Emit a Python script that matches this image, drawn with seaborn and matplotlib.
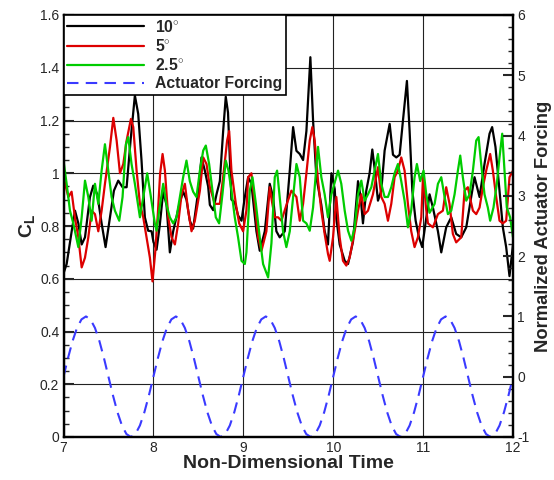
import matplotlib
matplotlib.use("Agg")
import matplotlib.pyplot as plt
import matplotlib.ticker as mticker
import seaborn as sns
import numpy as np

# ---------------- data ----------------
t_10 = [7.0, 7.035, 7.091, 7.128, 7.165, 7.202, 7.239, 7.294, 7.331, 7.376, 7.424, 7.468,
        7.517, 7.561, 7.609, 7.657, 7.702, 7.746, 7.794, 7.831, 7.868, 7.905, 7.942, 7.98,
        8.0, 8.035, 8.07, 8.109, 8.146, 8.183, 8.22, 8.294, 8.331, 8.368, 8.405, 8.442,
        8.498, 8.535, 8.572, 8.609, 8.628, 8.665, 8.702, 8.739, 8.776, 8.805, 8.83, 8.868,
        8.905, 8.942, 8.98, 9.017, 9.054, 9.09, 9.146, 9.183, 9.239, 9.294, 9.331, 9.368,
        9.405, 9.461, 9.517, 9.554, 9.591, 9.628, 9.665, 9.702, 9.746, 9.776, 9.813, 9.868,
        9.905, 9.942, 9.98, 10.017, 10.035, 10.072, 10.128, 10.165, 10.22, 10.276, 10.305,
        10.331, 10.368, 10.405, 10.435, 10.46, 10.498, 10.535, 10.572, 10.628, 10.665,
        10.702, 10.739, 10.776, 10.82, 10.85, 10.88, 10.917, 10.954, 10.99, 11.035, 11.072,
        11.109, 11.165, 11.202, 11.257, 11.313, 11.368, 11.424, 11.48, 11.535, 11.572,
        11.628, 11.683, 11.739, 11.768, 11.805, 11.85, 11.887, 11.924, 11.961, 12.0]
cl_10 = [0.62, 0.656, 0.78, 0.858, 0.81, 0.73, 0.757, 0.909, 0.953, 0.92, 0.81, 0.72,
         0.833, 0.934, 0.972, 0.947, 0.947, 1.124, 1.295, 1.225, 1.048, 0.833, 0.782, 0.78,
         0.74, 0.71, 0.80, 0.93, 0.88, 0.70, 0.78, 0.89, 0.93, 0.90, 0.82, 0.79,
         0.93, 1.06, 1.01, 0.95, 0.88, 0.86, 0.92, 0.97, 1.16, 1.29, 1.23, 0.90,
         0.89, 0.84, 0.82, 0.91, 0.985, 0.96, 0.78, 0.706, 0.78, 0.96, 0.91, 0.78,
         0.757, 0.78, 1.01, 1.175, 1.085, 1.073, 1.05, 1.16, 1.44, 1.2, 0.985, 0.88,
         0.78, 0.73, 1.0, 0.94, 0.83, 0.73, 0.668, 0.656, 0.74, 0.97, 0.91,
         0.81, 0.934, 1.0, 1.09, 1.02, 0.896, 0.934, 1.086, 1.187, 1.07,
         1.06, 1.07, 1.2, 1.35, 1.16, 0.934, 0.82, 0.757, 0.72, 0.83, 0.92,
         0.87, 0.78, 0.70, 0.795, 0.833, 0.77, 0.757, 0.795, 0.91, 0.985,
         0.91, 1.035, 1.15, 1.175, 1.1, 0.934, 0.795, 0.72, 0.61, 0.73]

t_5 = [7.0, 7.054, 7.09, 7.128, 7.165, 7.202, 7.239, 7.276, 7.313, 7.35, 7.387, 7.424,
       7.461, 7.517, 7.554, 7.591, 7.628, 7.665, 7.702, 7.75, 7.776, 7.813, 7.85, 7.887,
       7.924, 7.961, 7.99, 8.02, 8.05, 8.075, 8.102, 8.128, 8.165, 8.202, 8.239, 8.276,
       8.313, 8.35, 8.387, 8.424, 8.461, 8.517, 8.554, 8.591, 8.628, 8.683, 8.739, 8.776,
       8.82, 8.843, 8.868, 8.917, 8.954, 8.998, 9.035, 9.054, 9.09, 9.128, 9.165, 9.202,
       9.257, 9.294, 9.32, 9.35, 9.387, 9.424, 9.48, 9.535, 9.591, 9.628, 9.665, 9.702,
       9.739, 9.768, 9.794, 9.831, 9.868, 9.905, 9.942, 9.961, 9.998, 10.035, 10.072,
       10.109, 10.146, 10.183, 10.239, 10.276, 10.313, 10.35, 10.387, 10.442, 10.498,
       10.535, 10.572, 10.609, 10.646, 10.683, 10.72, 10.757, 10.794, 10.831, 10.868,
       10.905, 10.942, 10.98, 11.0, 11.035, 11.054, 11.109, 11.165, 11.22, 11.257, 11.294,
       11.331, 11.368, 11.424, 11.461, 11.498, 11.52, 11.554, 11.591, 11.628, 11.665,
       11.702, 11.746, 11.776, 11.813, 11.85, 11.887, 11.924, 11.961, 12.0]
cl_5 = [0.985, 0.91, 0.93, 0.83, 0.757, 0.643, 0.68, 0.757, 0.858, 0.845, 0.78, 0.858,
        0.96, 1.1, 1.21, 1.124, 1.0, 1.035, 1.124, 1.206, 1.175, 1.01, 0.884, 0.833,
        0.757, 0.68, 0.59, 0.70, 0.85, 1.0, 1.073, 1.01, 0.833, 0.757, 0.73, 0.81,
        0.92, 0.96, 0.858, 0.78, 0.82, 0.934, 1.06, 1.035, 0.947, 0.884, 0.884, 0.985,
        1.124, 1.16, 1.01, 0.884, 0.81, 0.78, 0.86, 0.985, 1.0, 0.884, 0.757, 0.706,
        0.78, 0.947, 0.89, 0.833, 0.833, 0.82, 0.88, 0.934, 0.91, 0.82, 0.884, 1.0,
        1.124, 1.175, 1.124, 0.972, 0.858, 0.77, 0.694, 0.668, 0.757, 0.91, 0.757,
        0.668, 0.65, 0.68, 0.78, 0.858, 0.92, 0.845, 0.858, 0.92, 1.023,
        0.91, 0.884, 0.82, 0.884, 0.985, 1.01, 1.06, 1.01, 0.884, 0.78,
        0.72, 0.757, 0.833, 0.997, 0.86, 0.81, 0.795, 0.845, 0.858, 0.947, 0.884,
        0.77, 0.738, 0.757, 0.934, 0.947, 0.91, 0.858, 0.845, 0.87, 0.947,
        1.01, 1.073, 1.01, 0.91, 0.82, 0.81, 0.82, 0.985, 1.01]

t_25 = [7.0, 7.035, 7.072, 7.109, 7.165, 7.202, 7.239, 7.276, 7.313, 7.35, 7.387, 7.424,
        7.461, 7.498, 7.535, 7.572, 7.62, 7.657, 7.694, 7.72, 7.757, 7.794, 7.85, 7.887,
        7.931, 7.968, 8.016, 8.035, 8.065, 8.109, 8.146, 8.183, 8.22, 8.257, 8.294, 8.331,
        8.368, 8.405, 8.442, 8.479, 8.517, 8.554, 8.583, 8.62, 8.657, 8.694, 8.731, 8.768,
        8.805, 8.835, 8.868, 8.905, 8.942, 8.98, 9.017, 9.035, 9.072, 9.102, 9.14, 9.183,
        9.22, 9.276, 9.313, 9.35, 9.376, 9.405, 9.442, 9.479, 9.517, 9.554, 9.591, 9.628,
        9.665, 9.702, 9.739, 9.776, 9.831, 9.868, 9.905, 9.942, 9.98, 10.054, 10.09,
        10.128, 10.165, 10.202, 10.239, 10.276, 10.313, 10.35, 10.387, 10.424, 10.461,
        10.498, 10.535, 10.572, 10.609, 10.646, 10.683, 10.72, 10.757, 10.794, 10.831,
        10.868, 10.905, 10.931, 10.968, 11.005, 11.035, 11.072, 11.128, 11.165, 11.202,
        11.239, 11.276, 11.313, 11.35, 11.387, 11.413, 11.442, 11.48, 11.517, 11.554,
        11.591, 11.617, 11.646, 11.683, 11.72, 11.746, 11.783, 11.82, 11.85, 11.88,
        11.905, 11.931, 11.968, 12.0]
cl_25 = [1.048, 0.96, 0.858, 0.81, 0.72, 0.833, 0.972, 0.91, 0.82, 0.96, 0.884, 1.01,
         1.11, 1.01, 0.91, 0.858, 0.82, 0.91, 1.11, 1.137, 1.035, 0.96, 0.833, 0.91,
         1.0, 0.92, 0.81, 0.782, 0.86, 0.96, 0.88, 0.833, 0.81, 0.833, 0.91, 0.985,
         1.048, 0.97, 0.93, 0.91, 1.01, 1.086, 1.105, 1.035, 0.934, 0.833, 0.81, 0.92,
         1.048, 1.01, 0.934, 0.833, 0.757, 0.668, 0.656, 0.70, 0.934, 0.985, 0.884, 0.757,
         0.656, 0.605, 0.735, 0.985, 1.01, 0.91, 0.78, 0.72, 0.78, 0.91, 1.035, 0.985,
         0.82, 0.81, 0.782, 0.87, 1.1, 0.985, 0.92, 0.833, 0.92, 1.01, 0.96,
         0.858, 0.782, 0.744, 0.795, 0.92, 0.972, 0.896, 0.92, 0.947, 1.01,
         1.073, 0.96, 0.91, 0.91, 0.947, 1.0, 1.035, 0.97, 0.896, 0.795,
         0.86, 0.985, 1.035, 0.97, 1.01, 0.92, 0.85, 0.884, 0.96, 0.985,
         0.91, 0.845, 0.858, 0.92, 1.01, 1.067, 0.985, 0.896, 0.92, 1.01,
         1.124, 1.137, 1.035, 0.92, 0.87, 0.82, 0.87, 0.96, 1.06, 1.15,
         1.01, 0.87, 0.833, 0.757]

t_force = [7.00, 7.05, 7.10, 7.15, 7.20, 7.25, 7.30, 7.35, 7.40, 7.45,
           7.50, 7.55, 7.60, 7.65, 7.70, 7.75, 7.80, 7.85, 7.90, 7.95,
           8.00, 8.05, 8.10, 8.15, 8.20, 8.25, 8.30, 8.35, 8.40, 8.45,
           8.50, 8.55, 8.60, 8.65, 8.70, 8.75, 8.80, 8.85, 8.90, 8.95,
           9.00, 9.05, 9.10, 9.15, 9.20, 9.25, 9.30, 9.35, 9.40, 9.45,
           9.50, 9.55, 9.60, 9.65, 9.70, 9.75, 9.80, 9.85, 9.90, 9.95,
           10.00, 10.05, 10.10, 10.15, 10.20, 10.25, 10.30, 10.35, 10.40, 10.45,
           10.50, 10.55, 10.60, 10.65, 10.70, 10.75, 10.80, 10.85, 10.90, 10.95,
           11.00, 11.05, 11.10, 11.15, 11.20, 11.25, 11.30, 11.35, 11.40, 11.45,
           11.50, 11.55, 11.60, 11.65, 11.70, 11.75, 11.80, 11.85, 11.90, 11.95,
           12.00]
forcing = [0.0, 0.309, 0.588, 0.809, 0.951, 1.0, 0.951, 0.809, 0.588, 0.309,
           0.0, -0.309, -0.588, -0.809, -0.951, -1.0, -0.951, -0.809, -0.588, -0.309,
           0.0, 0.309, 0.588, 0.809, 0.951, 1.0, 0.951, 0.809, 0.588, 0.309,
           0.0, -0.309, -0.588, -0.809, -0.951, -1.0, -0.951, -0.809, -0.588, -0.309,
           0.0, 0.309, 0.588, 0.809, 0.951, 1.0, 0.951, 0.809, 0.588, 0.309,
           0.0, -0.309, -0.588, -0.809, -0.951, -1.0, -0.951, -0.809, -0.588, -0.309,
           0.0, 0.309, 0.588, 0.809, 0.951, 1.0, 0.951, 0.809, 0.588, 0.309,
           0.0, -0.309, -0.588, -0.809, -0.951, -1.0, -0.951, -0.809, -0.588, -0.309,
           0.0, 0.309, 0.588, 0.809, 0.951, 1.0, 0.951, 0.809, 0.588, 0.309,
           0.0, -0.309, -0.588, -0.809, -0.951, -1.0, -0.951, -0.809, -0.588, -0.309,
           0.0]

labels = ["10$^{\\circ}$", "5$^{\\circ}$", "2.5$^{\\circ}$", "Actuator Forcing"]
x_ticks = [7, 8, 9, 10, 11, 12]
left_ticks = [0, 0.2, 0.4, 0.6, 0.8, 1.0, 1.2, 1.4, 1.6]
right_ticks = [-1, 0, 1, 2, 3, 4, 5, 6]

# ---------------- style ----------------
sns.set_style("white")
plt.rcParams["font.family"] = ["Liberation Sans", "DejaVu Sans"]
plt.rcParams["mathtext.fontset"] = "custom"
plt.rcParams["mathtext.rm"] = "Liberation Sans"
plt.rcParams["mathtext.bf"] = "Liberation Sans:bold"
plt.rcParams["mathtext.it"] = "Liberation Sans:italic"

fig = plt.figure(figsize=(5.54, 4.8), dpi=100)
ax = fig.add_axes([63.5 / 554, 1 - 437 / 480, (513 - 63.5) / 554, (437 - 15) / 480])
ax2 = ax.twinx()

lw = 1.6
sns.lineplot(x=t_10, y=cl_10, ax=ax, color="black", lw=lw, sort=False, estimator=None)
sns.lineplot(x=t_5, y=cl_5, ax=ax, color="#dd0000", lw=lw, sort=False, estimator=None)
sns.lineplot(x=t_25, y=cl_25, ax=ax, color="#00cc00", lw=lw, sort=False, estimator=None)
sns.lineplot(x=t_force, y=forcing, ax=ax2, color="#3a3aff", lw=1.5, sort=False,
             estimator=None, dashes=False)
for ln in ax2.get_lines():
    ln.set_linestyle((0, (5.5, 3.5)))

ax.set_xlim(7, 12)
ax.set_ylim(0, 1.6)
ax2.set_ylim(-1, 6)

fmt = mticker.FuncFormatter(lambda v, p: "%g" % v)
ax.set_xticks(x_ticks)
ax.set_yticks(left_ticks)
ax2.set_yticks(right_ticks)
ax.xaxis.set_major_formatter(fmt)
ax.yaxis.set_major_formatter(fmt)
ax2.yaxis.set_major_formatter(fmt)
ax.xaxis.set_minor_locator(mticker.MultipleLocator(0.2))
ax.yaxis.set_minor_locator(mticker.MultipleLocator(0.05))
ax2.yaxis.set_minor_locator(mticker.MultipleLocator(0.2))

ax.tick_params(axis="both", which="major", direction="in", length=7, width=1.5,
               labelsize=10, pad=3, top=False, right=False)
ax.tick_params(axis="both", which="minor", direction="in", length=3.5, width=1,
               top=False, right=False)
ax2.tick_params(axis="y", which="major", direction="in", length=7, width=1.5,
                labelsize=10, pad=3)
ax2.tick_params(axis="y", which="minor", direction="in", length=3.5, width=1)

ax.grid(True, which="major", color="#222222", lw=0.8)
ax.set_axisbelow(True)

for a in (ax, ax2):
    for s in a.spines.values():
        s.set_linewidth(1.6)
        s.set_color("black")

ax.set_xlabel("Non-Dimensional Time", fontsize=14, fontweight="bold", labelpad=0)
ax.set_ylabel("$\\mathbf{C}_\\mathbf{L}$", fontsize=14, labelpad=2)
ax2.set_ylabel("Normalized Actuator Forcing", fontsize=13.2, fontweight="bold", labelpad=4)

handles = ax.get_lines()[:3] + ax2.get_lines()[:1]
leg = ax2.legend(handles, labels, loc="upper left", bbox_to_anchor=(0.0, 1.0),
                 frameon=True, fancybox=False, framealpha=1, edgecolor="black",
                 borderaxespad=0, handlelength=4.9, handletextpad=0.7,
                 labelspacing=0.2, borderpad=0.25,
                 prop={"weight": "bold", "size": 11.3})
leg.get_frame().set_linewidth(1.2)

fig.savefig("out.png", dpi=100)
